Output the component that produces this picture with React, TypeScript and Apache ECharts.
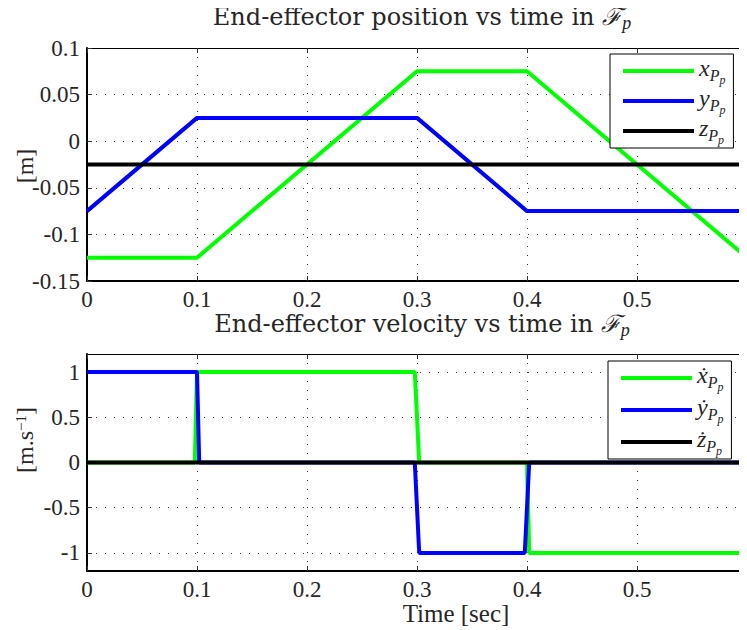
import React, { useEffect, useRef } from "react";
import * as echarts from "echarts";

const posTime = [0, 0.1, 0.3, 0.4, 0.6];
const posX = [-0.125, -0.125, 0.075, 0.075, -0.125];
const posY = [-0.075, 0.025, 0.025, -0.075, -0.075];
const posZ = [-0.025, -0.025, -0.025, -0.025, -0.025];

const velXTime = [0, 0.098, 0.1, 0.298, 0.302, 0.4, 0.402, 0.6];
const velX = [0, 0, 1, 1, 0, 0, -1, -1];
const velYTime = [0, 0.1, 0.102, 0.298, 0.302, 0.398, 0.402, 0.6];
const velY = [1, 1, 0, 0, -1, -1, 0, 0];
const velZTime = [0, 0.6];
const velZ = [0, 0];

const velTicks = [-1, -0.5, 0, 0.5, 1];

const zip = (a: number[], b: number[]) => a.map((t, i) => [t, b[i]]);

const FONT = "Liberation Serif";
const TFONT = "DejaVu Serif";
const TXT = "#262626";

export default function App() {
  const ref = useRef<HTMLDivElement>(null);
  useEffect(() => {
    const chart = echarts.init(ref.current!, undefined, { renderer: "svg" });
    const gridLine = { show: true, lineStyle: { type: [1, 8] as any, color: "#333", width: 1 } };
    const xBottom = (gi: number) => ({
      type: "value",
      gridIndex: gi,
      min: 0,
      max: 0.6,
      interval: 0.1,
      axisLine: { show: true, onZero: false, lineStyle: { color: "#000", width: 2 } },
      axisTick: { show: true, inside: true, length: 5, lineStyle: { color: "#333" } },
      axisLabel: {
        fontFamily: FONT,
        fontSize: 23,
        color: TXT,
        margin: 7,
        formatter: (v: number) => (v > 0.59 ? "" : String(Math.round(v * 10) / 10)),
      },
      splitLine: gridLine,
    });
    const xTop = (gi: number) => ({
      type: "value",
      gridIndex: gi,
      position: "top",
      min: 0,
      max: 0.6,
      interval: 0.1,
      axisLine: { show: true, onZero: false, lineStyle: { color: "#000", width: 1 } },
      axisTick: { show: true, inside: true, length: 5, lineStyle: { color: "#333" } },
      axisLabel: { show: false },
      splitLine: { show: false },
    });
    const sub = {
      a: { fontFamily: FONT, fontStyle: "italic", fontSize: 24, color: TXT, verticalAlign: "bottom", padding: [0, 0, 6, 0] },
      b: { fontFamily: FONT, fontStyle: "italic", fontSize: 16, color: TXT, verticalAlign: "bottom", padding: [0, 0, 3, 0] },
      c: { fontFamily: FONT, fontStyle: "italic", fontSize: 12, color: TXT, verticalAlign: "bottom" },
    };
    const titleRich = {
      n: { fontFamily: TFONT, fontWeight: "normal", fontSize: 24, color: TXT, verticalAlign: "bottom", padding: [0, 0, 3, 0] },
      f: { fontFamily: TFONT, fontWeight: "normal", fontStyle: "italic", fontSize: 24, color: TXT, verticalAlign: "bottom", padding: [0, 0, 3, 0] },
      p: { fontFamily: FONT, fontWeight: "normal", fontStyle: "italic", fontSize: 18, color: TXT, verticalAlign: "bottom" },
    };
    const lineSeries = (name: string, data: number[][], color: string, gi: number) => ({
      name,
      type: "line",
      xAxisIndex: gi * 2,
      yAxisIndex: gi,
      data,
      showSymbol: false,
      symbol: "none",
      lineStyle: { color, width: 4 },
      itemStyle: { color },
      clip: true,
    });
    const legendBase = {
      orient: "vertical",
      backgroundColor: "#fff",
      borderColor: "#000",
      borderWidth: 1,
      borderRadius: 0,
      icon: "rect",
      itemWidth: 71,
      itemHeight: 4,
      itemGap: 0,
      padding: [2, 8, 2, 13],
      textStyle: { rich: sub, fontFamily: FONT, color: TXT },
    };
    chart.setOption({
      animation: false,
      backgroundColor: "#fff",
      title: [
        {
          text: "{n|End-effector position vs time in }{f|ℱ}{p|p}",
          left: 422,
          top: 5,
          padding: 0,
          textAlign: "center",
          textStyle: { rich: titleRich, fontWeight: "normal" },
        },
        {
          text: "{n|End-effector velocity vs time in }{f|ℱ}{p|p}",
          left: 422,
          top: 312,
          padding: 0,
          textAlign: "center",
          textStyle: { rich: titleRich, fontWeight: "normal" },
        },
      ],
      grid: [
        { left: 87, top: 48, height: 233, right: 0, outerBoundsMode: "none", containLabel: false },
        { left: 87, top: 354, height: 217, right: 0, outerBoundsMode: "none", containLabel: false },
      ],
      xAxis: [xBottom(0), xTop(0), xBottom(1), xTop(1)],
      yAxis: [
        {
          type: "value",
          gridIndex: 0,
          min: -0.15,
          max: 0.1,
          interval: 0.05,
          axisLine: { show: true, onZero: false, lineStyle: { color: "#000", width: 2 } },
          axisTick: { show: true, inside: true, length: 5, lineStyle: { color: "#333" } },
          axisLabel: { fontFamily: FONT, fontSize: 23, color: TXT, margin: 7 },
          splitLine: gridLine,
        },
        {
          type: "value",
          gridIndex: 1,
          min: -1.2,
          max: 1.2,
          axisLine: { show: true, onZero: false, lineStyle: { color: "#000", width: 2 } },
          axisTick: { show: true, inside: true, length: 5, customValues: velTicks, lineStyle: { color: "#333" } },
          axisLabel: { fontFamily: FONT, fontSize: 23, color: TXT, margin: 7, customValues: velTicks },
          splitLine: gridLine,
        },
      ],
      legend: [
        {
          ...legendBase,
          left: 610,
          top: 54,
          data: ["xP", "yP", "zP"],
          formatter: (n: string) => `{a|${n[0]}}{b|P}{c|p}`,
        },
        {
          ...legendBase,
          left: 608,
          top: 361,
          itemGap: 2,
          data: ["vxP", "vyP", "vzP"],
          formatter: (n: string) => {
            const m: Record<string, string> = { vxP: "ẋ", vyP: "ẏ", vzP: "ż" };
            return `{a|${m[n]}}{b|P}{c|p}`;
          },
        },
      ],
      graphic: [
        {
          type: "text",
          x: 456,
          y: 601,
          style: { text: "Time [sec]", fontFamily: FONT, fontSize: 25, fill: TXT, textAlign: "center", textVerticalAlign: "top" },
        },
        {
          type: "text",
          x: 25,
          y: 166,
          rotation: Math.PI / 2,
          style: { text: "[m]", fontFamily: FONT, fontSize: 24, fill: TXT, textAlign: "center", textVerticalAlign: "middle" },
        },
        {
          type: "text",
          x: 25,
          y: 440,
          rotation: Math.PI / 2,
          style: {
            text: "{a|[m.s}{s|−1}{a|]}",
            textAlign: "center",
            textVerticalAlign: "middle",
            rich: {
              a: { fontFamily: FONT, fontSize: 24, fill: TXT, verticalAlign: "bottom" },
              s: { fontFamily: FONT, fontSize: 15, fill: TXT, verticalAlign: "top" },
            },
          },
        },
      ],
      series: [
        lineSeries("xP", zip(posTime, posX), "#00ff00", 0),
        lineSeries("yP", zip(posTime, posY), "#0000ff", 0),
        lineSeries("zP", zip(posTime, posZ), "#000000", 0),
        lineSeries("vxP", zip(velXTime, velX), "#00ff00", 1),
        lineSeries("vyP", zip(velYTime, velY), "#0000ff", 1),
        lineSeries("vzP", zip(velZTime, velZ), "#000000", 1),
      ],
    });
    return () => chart.dispose();
  }, []);
  return <div ref={ref} style={{ width: 747, height: 630, marginLeft: -8, marginTop: -8 }} />;
}
